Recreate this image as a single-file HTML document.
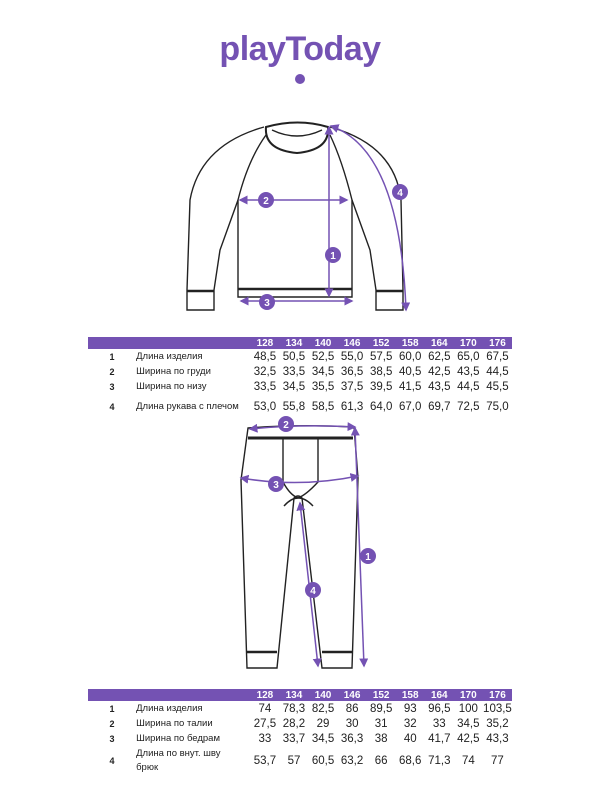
<!DOCTYPE html>
<html><head><meta charset="utf-8"><style>
body{margin:0;width:600px;height:800px;background:#fff;position:relative;overflow:hidden;font-family:"Liberation Sans","DejaVu Sans",sans-serif;}
.logo{position:absolute;left:0;width:600px;top:30px;text-align:center;color:#7452b3;font-weight:bold;font-size:34px;letter-spacing:-0.5px;font-family:"Liberation Sans",sans-serif}
table{position:absolute;left:88px;width:424px;border-collapse:collapse;font-size:11.5px;color:#222;table-layout:fixed}
td{padding:0;text-align:center;height:15px;white-space:nowrap}
tr.h td{background:#7452b3;color:#fff;font-weight:bold;height:12px;font-size:10px}
td.n{font-weight:bold;font-size:9px}
td.l{text-align:left;font-size:9.5px}
td.w{white-space:normal;line-height:14px}
svg{position:absolute;left:0;top:0}
</style></head><body>
<div class="logo">playToday</div>
<svg width="600" height="800" viewBox="0 0 600 800">
<defs><marker id="a" markerWidth="6" markerHeight="6" refX="5" refY="3" orient="auto"><path d="M0,0L6,3L0,6z" fill="#7452b3"/></marker>
<marker id="b" markerWidth="6" markerHeight="6" refX="1" refY="3" orient="auto"><path d="M6,0L0,3L6,6z" fill="#7452b3"/></marker></defs>
<circle cx="300" cy="79" r="5" fill="#7452b3"/>
<g fill="none" stroke="#222" stroke-width="1.4">
<path d="M266,127 Q298,118 328,127 Q330,150 297,153 Q264,150 266,127z" stroke-width="2"/>
<path d="M272,130 Q297,142 322,130"/>
<path d="M266,135 Q248,160 238,200 L238,297 L352,297 L352,200 Q342,160 330,135"/>
<path d="M238,289 L352,289" stroke-width="2.5"/>
<path d="M264,127 Q200,145 190,200 L187,290 L187,310 L214,310 L214,290 L220,250 L238,200"/>
<path d="M187,291 L214,291" stroke-width="2.5"/>
<path d="M330,127 Q395,145 401,200 L403,290 L403,310 L376,310 L376,290 L370,250 L352,200"/>
<path d="M376,291 L403,291" stroke-width="2.5"/>
<path d="M248,428 Q300,424 354,427 L358,478 L352,668 L322,668 L302,498 Q298,494 294,498 L277,668 L247,668 L241,480z"/>
<path d="M248,438 L353,438" stroke-width="3"/>
<path d="M247,652 L277,652 M322,652 L352,652" stroke-width="2.5"/>
<path d="M283,438 L283,482 Q290,495 298,498 Q306,495 318,482 L318,438"/>
<path d="M284,506 Q298,490 313,506"/>
</g>
<g stroke="#7452b3" stroke-width="1.5" fill="none" marker-start="url(#b)" marker-end="url(#a)">
<path d="M329,127 L329,296"/>
<path d="M240,200 L347,200"/>
<path d="M241,301 L352,301"/>
<path d="M331,126 Q400,150 406,310"/>
<path d="M250,429 Q300,424 355,427"/>
<path d="M241,478 Q300,488 358,476"/>
<path d="M355,428 L364,666"/>
<path d="M300,503 L318,666"/>
</g>
<g fill="#7452b3" font-size="10" font-weight="bold" text-anchor="middle">
<circle cx="333" cy="255" r="8"/><circle cx="266" cy="200" r="8"/><circle cx="267" cy="302" r="8"/><circle cx="400" cy="192" r="8"/>
<circle cx="286" cy="424" r="8"/><circle cx="276" cy="484" r="8"/><circle cx="368" cy="556" r="8"/><circle cx="313" cy="590" r="8"/>
<g fill="#fff"><text x="333" y="259">1</text><text x="266" y="204">2</text><text x="267" y="306">3</text><text x="400" y="196">4</text>
<text x="286" y="428">2</text><text x="276" y="488">3</text><text x="368" y="560">1</text><text x="313" y="594">4</text></g>
</g>
</svg>
<table style="top:337px">
<colgroup><col style="width:48px"><col style="width:114px"><col span="9" style="width:29px"></colgroup>
<tr class="h"><td></td><td></td><td>128</td><td>134</td><td>140</td><td>146</td><td>152</td><td>158</td><td>164</td><td>170</td><td>176</td></tr>
<tr><td class="n">1</td><td class="l">Длина изделия</td><td>48,5</td><td>50,5</td><td>52,5</td><td>55,0</td><td>57,5</td><td>60,0</td><td>62,5</td><td>65,0</td><td>67,5</td></tr>
<tr><td class="n">2</td><td class="l">Ширина по груди</td><td>32,5</td><td>33,5</td><td>34,5</td><td>36,5</td><td>38,5</td><td>40,5</td><td>42,5</td><td>43,5</td><td>44,5</td></tr>
<tr><td class="n">3</td><td class="l">Ширина по низу</td><td>33,5</td><td>34,5</td><td>35,5</td><td>37,5</td><td>39,5</td><td>41,5</td><td>43,5</td><td>44,5</td><td>45,5</td></tr>
<tr style="height:25px"><td class="n">4</td><td class="l">Длина рукава с плечом</td><td>53,0</td><td>55,8</td><td>58,5</td><td>61,3</td><td>64,0</td><td>67,0</td><td>69,7</td><td>72,5</td><td>75,0</td></tr>
</table>
<table style="top:689px">
<colgroup><col style="width:48px"><col style="width:114px"><col span="9" style="width:29px"></colgroup>
<tr class="h"><td></td><td></td><td>128</td><td>134</td><td>140</td><td>146</td><td>152</td><td>158</td><td>164</td><td>170</td><td>176</td></tr>
<tr><td class="n">1</td><td class="l">Длина изделия</td><td>74</td><td>78,3</td><td>82,5</td><td>86</td><td>89,5</td><td>93</td><td>96,5</td><td>100</td><td>103,5</td></tr>
<tr><td class="n">2</td><td class="l">Ширина по талии</td><td>27,5</td><td>28,2</td><td>29</td><td>30</td><td>31</td><td>32</td><td>33</td><td>34,5</td><td>35,2</td></tr>
<tr><td class="n">3</td><td class="l">Ширина по бедрам</td><td>33</td><td>33,7</td><td>34,5</td><td>36,3</td><td>38</td><td>40</td><td>41,7</td><td>42,5</td><td>43,3</td></tr>
<tr style="height:30px"><td class="n">4</td><td class="l w">Длина по внут. шву<br>брюк</td><td>53,7</td><td>57</td><td>60,5</td><td>63,2</td><td>66</td><td>68,6</td><td>71,3</td><td>74</td><td>77</td></tr>
</table>
</body></html>
